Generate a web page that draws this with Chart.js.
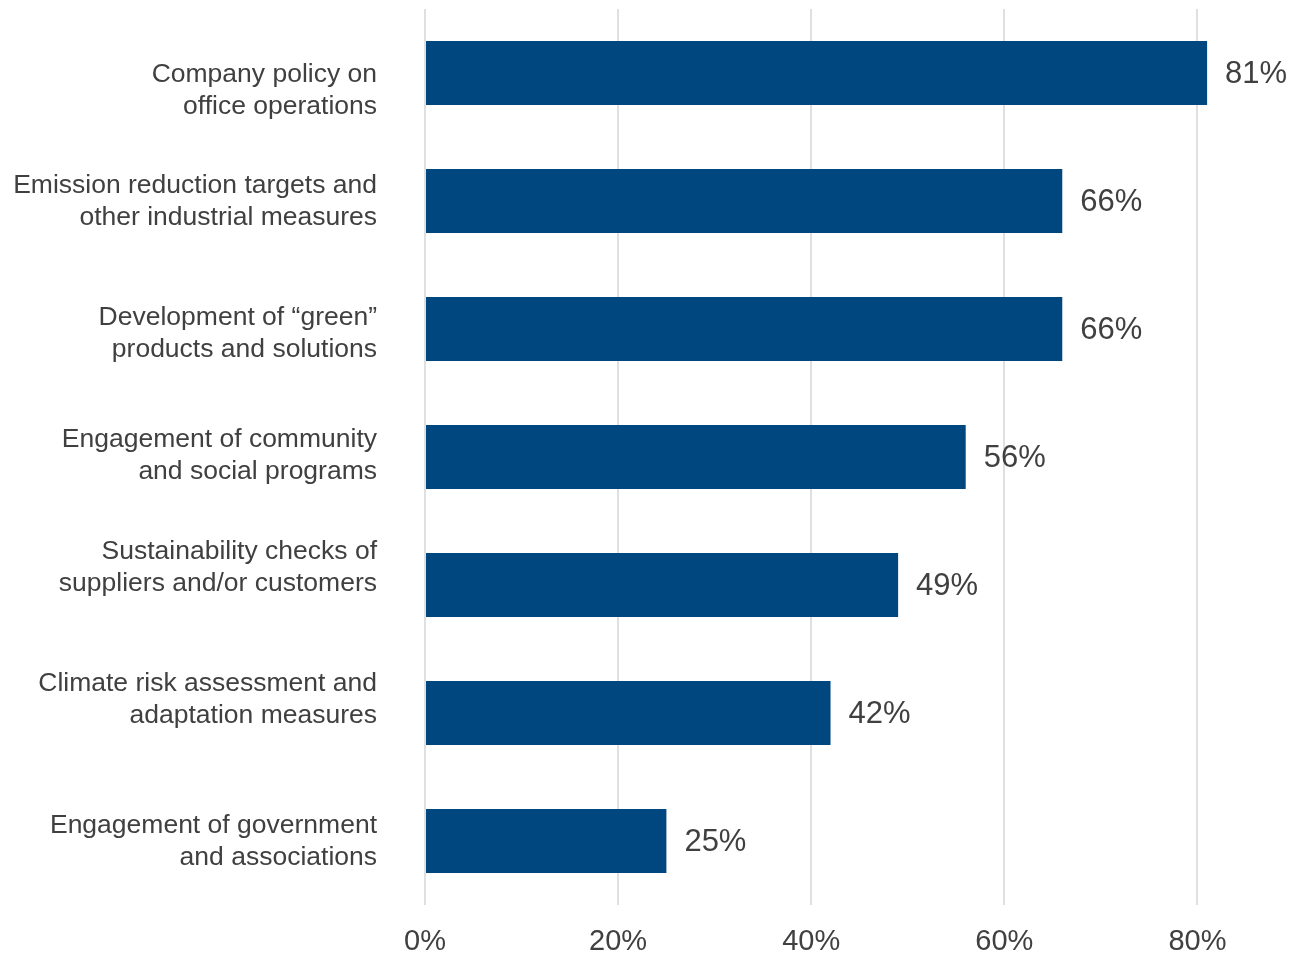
<!DOCTYPE html>
<html>
<head>
<meta charset="utf-8">
<script src="https://cdn.jsdelivr.net/npm/chart.js@4/dist/chart.umd.min.js"></script>
<style>
  html, body { margin: 0; padding: 0; background: #fff; }
  #wrap { width: 1294px; height: 955px; position: relative; }
</style>
</head>
<body>
<div id="wrap"><canvas id="chart"></canvas></div>
<script>
// ==== Data ====
const categories = [
  ['Company policy on', 'office operations'],
  ['Emission reduction targets and', 'other industrial measures'],
  ['Development of \u201cgreen\u201d', 'products and solutions'],
  ['Engagement of community', 'and social programs'],
  ['Sustainability checks of', 'suppliers and/or customers'],
  ['Climate risk assessment and', 'adaptation measures'],
  ['Engagement of government', 'and associations']
];
const shares = [81, 66, 66, 56, 49, 42, 25];
const tickValues = [0, 20, 40, 60, 80];

// ==== Styles ====
const textColor = '#404040';
const barColor = '#00477f';
const fontFamily = '"Liberation Sans", Arial, sans-serif';
// the category text blocks do not sit exactly on the bar centres
const labelShift = [18, 1, 5, -1, -17, -13, 1];

// value labels to the right of each bar
const valueLabels = {
  id: 'valueLabels',
  afterDatasetsDraw(chart) {
    const ctx = chart.ctx;
    const meta = chart.getDatasetMeta(0);
    ctx.save();
    ctx.font = '31px ' + fontFamily;
    ctx.fillStyle = textColor;
    ctx.textAlign = 'left';
    ctx.textBaseline = 'middle';
    meta.data.forEach((bar, i) => {
      ctx.fillText(shares[i] + '%', bar.x + 18, bar.y + 1);
    });
    ctx.restore();
  }
};

// two-line category names, right aligned left of the plot
const categoryLabels = {
  id: 'categoryLabels',
  afterDraw(chart) {
    const ctx = chart.ctx;
    const yScale = chart.scales.y;
    const right = chart.chartArea.left - 48;
    const lineGap = 32;
    ctx.save();
    ctx.font = '26.5px ' + fontFamily;
    ctx.fillStyle = textColor;
    ctx.textAlign = 'right';
    ctx.textBaseline = 'middle';
    categories.forEach((lines, i) => {
      const mid = yScale.getPixelForValue(i) + labelShift[i];
      lines.forEach((line, j) => {
        const y = mid + (j - (lines.length - 1) / 2) * lineGap;
        ctx.fillText(line, right, y);
      });
    });
    ctx.restore();
  }
};

new Chart(document.getElementById('chart'), {
  type: 'bar',
  data: {
    labels: categories,
    datasets: [{
      data: shares,
      backgroundColor: barColor,
      borderWidth: 0,
      barPercentage: 0.5,
      categoryPercentage: 1
    }]
  },
  options: {
    indexAxis: 'y',
    responsive: true,
    maintainAspectRatio: false,
    animation: false,
    layout: { padding: { top: 9, right: 0, bottom: 0, left: 0 } },
    plugins: {
      legend: { display: false },
      tooltip: { enabled: false }
    },
    scales: {
      x: {
        min: 0,
        max: 90,
        afterBuildTicks: s => { s.ticks = tickValues.map(v => ({ value: v })); },
        afterFit: s => {
          s.height = 50;
          s.paddingLeft = 0;
          s.paddingRight = 0;
        },
        border: { display: false },
        grid: { color: '#e0e0e0', lineWidth: 2, drawTicks: false },
        ticks: {
          padding: 20,
          color: textColor,
          font: { family: fontFamily, size: 29 },
          callback: v => v + '%'
        }
      },
      y: {
        afterFit: s => {
          s.width = 425;
          s.paddingTop = 0;
          s.paddingBottom = 0;
        },
        border: { display: false },
        grid: { display: false, drawTicks: false },
        ticks: { display: false }
      }
    }
  },
  plugins: [valueLabels, categoryLabels]
});
</script>
</body>
</html>
